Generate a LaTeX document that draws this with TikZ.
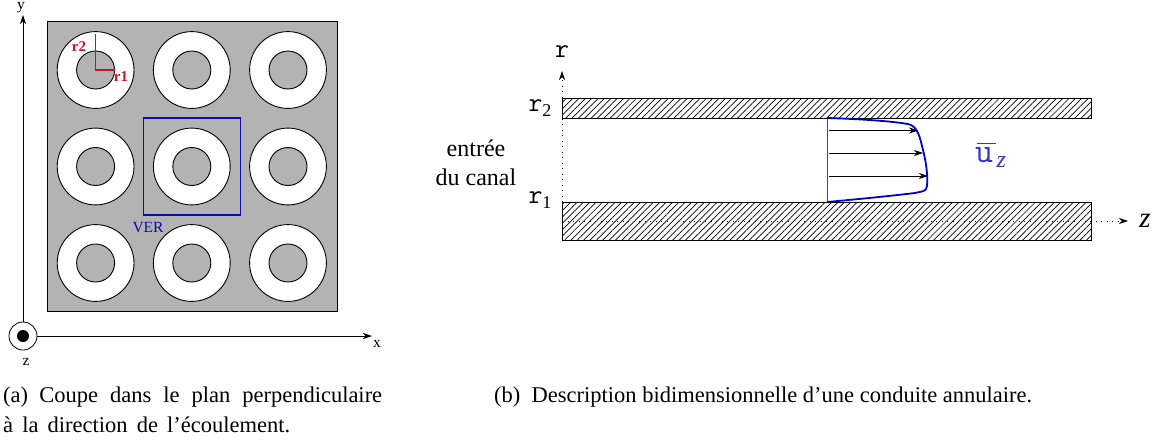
\documentclass[tikz,border=0pt]{standalone}
\usepackage{fontspec}
\setmainfont{Liberation Serif}
\setmonofont{Latin Modern Mono}
\usetikzlibrary{arrows.meta,patterns.meta,positioning}
\definecolor{tubegray}{HTML}{B3B3B3}
\definecolor{verblue}{HTML}{0A0AB4}
\definecolor{flowblue}{HTML}{0000C8}
\definecolor{radred}{HTML}{D4101C}
\tikzset{
  wall/.style={draw, line width=1pt, pattern={Lines[angle=45,distance=4.5pt,line width=0.7pt]}},
  axisline/.style={draw, line width=0.8pt, -{Stealth[length=9pt,width=6pt,inset=2.5pt]}},
  dotaxis/.style={draw, dash pattern=on 1pt off 4.5pt, line width=0.7pt, -{Stealth[length=9pt,width=6pt]}},
  speed/.style={draw, line width=0.9pt, -{Stealth[length=9pt,width=6pt]}},
  mathlabel/.style={font=\fontsize{27}{27}\ttfamily, inner sep=0pt},
  small/.style={font=\fontsize{15.5}{15.5}\selectfont, inner sep=0pt},
  redlabel/.style={font=\fontsize{15}{15}\bfseries, text=radred, inner sep=0pt},
  caption/.style={font=\fontsize{22.5}{28}\selectfont, anchor=west, inner sep=0pt}
}
\begin{document}
\begin{tikzpicture}[x=1pt,y=-1pt]
\useasboundingbox (0,0) rectangle (1158,442);
%square
\path[draw, fill=tubegray, line width=1pt](47,21.5) rectangle (337,311);
\foreach \cx in {95.6,191.8,288}{
  \foreach \cy in {70,166.5,263}{
    \path[draw, fill=white, line width=0.9pt](\cx,\cy) circle (38.4);
    \path[draw, fill=tubegray, line width=0.9pt](\cx,\cy) circle (19);
  }
}
%VER
\path[draw, verblue, line width=1.1pt](143.7,118) rectangle (240.3,215);
\node[small, text=verblue](ver) at (148,228){VER};
%radii
\coordinate (center) at (95.6,70);
\coordinate (rtop) at (95.6,34);
\coordinate (rright) at (114.6,70);
\path[draw, radred, line width=1.1pt](rtop)--(center)--(rright);
\node[redlabel](rtwo) at (79,47){r2};
\node[redlabel](rone) at (121,77){r1};
%axes
\coordinate (origin) at (23,336);
\node[draw, circle, line width=0.8pt, minimum size=28pt, inner sep=0pt](zcircle) at (origin){};
\node[circle, fill=black, minimum size=12pt, inner sep=0pt](zdot) at (origin){};
\coordinate (yend) at (23,15);
\coordinate (xend) at (372,336);
\path[axisline](zcircle)--(yend);
\path[axisline](zcircle)--(xend);
\node[small](ylabel) at (21,8){y};
\node[small](xlabel) at (377,344){x};
\node[small](zlabel) at (26,362){z};
%walls
\path[wall](562,98) rectangle (1091.5,118);
\path[wall](562,202) rectangle (1091.5,240);
%dotted axes
\coordinate (raxisstart) at (562,202);
\coordinate (raxisend) at (562,71);
\coordinate (zaxisstart) at (562,221);
\coordinate (zaxisend) at (1128,221);
\path[dotaxis](raxisstart)--(raxisend);
\path[dotaxis](zaxisstart)--(zaxisend);
\node[mathlabel](rlabel) at (562,52){r};
\node[font=\fontsize{29}{29}\rmfamily\itshape, inner sep=0pt](zzlabel) at (1145,221){z};
\node[mathlabel](rtwolabel) at (540,108){r\raisebox{-5pt}{\fontsize{18}{18}\rmfamily 2}};
\node[mathlabel](ronelabel) at (540,200){r\raisebox{-5pt}{\fontsize{18}{18}\rmfamily 1}};
\node[font=\fontsize{24}{29}\selectfont, align=center, inner sep=0pt](entree) at (476,162.5){entrée\\du canal};
%profile
\coordinate (wtop) at (827,118);
\coordinate (wbot) at (827,202);
\path[draw, line width=1pt, black!70](wtop)--(wbot);
\foreach \ya/\xb in {130.5/918,153/923,176/928}{
  \coordinate (a\xb) at (829,\ya);
  \coordinate (b\xb) at (\xb,\ya);
  \path[speed](a\xb)--(b\xb);
}
\path[draw, flowblue, line width=1.8pt](wtop) .. controls (860,119) and (890,121) .. (908,124) .. controls (918,126) and (920,138) .. (923,150) .. controls (926,162) and (928,175) .. (927,186) .. controls (926,192) and (923,191) .. (915,193) .. controls (890,196) and (860,199) .. (wbot);
\node[font=\fontsize{35}{35}\ttfamily, text=flowblue!80, inner sep=0pt, anchor=base west](ulabel) at (975,162){u\hspace{3.5pt}\raisebox{-5pt}{\fontsize{24}{24}\rmfamily\itshape z}};
\coordinate (barleft) at (977,143);
\coordinate (barright) at (996,143);
\path[draw, flowblue!80, line width=1pt](barleft)--(barright);
%captions
\node[caption](capa) at (3,397){\makebox[379pt][s]{(a)\hspace{0.5em}Coupe dans le plan perpendiculaire}};
\node[caption](capatwo) at (3,425){\makebox[287pt][s]{à la direction de l’écoulement.}};
\node[caption](capb) at (494,397){\makebox[538pt][s]{(b)\hspace{0.5em}Description bidimensionnelle d’une conduite annulaire.}};
\end{tikzpicture}
\end{document}
